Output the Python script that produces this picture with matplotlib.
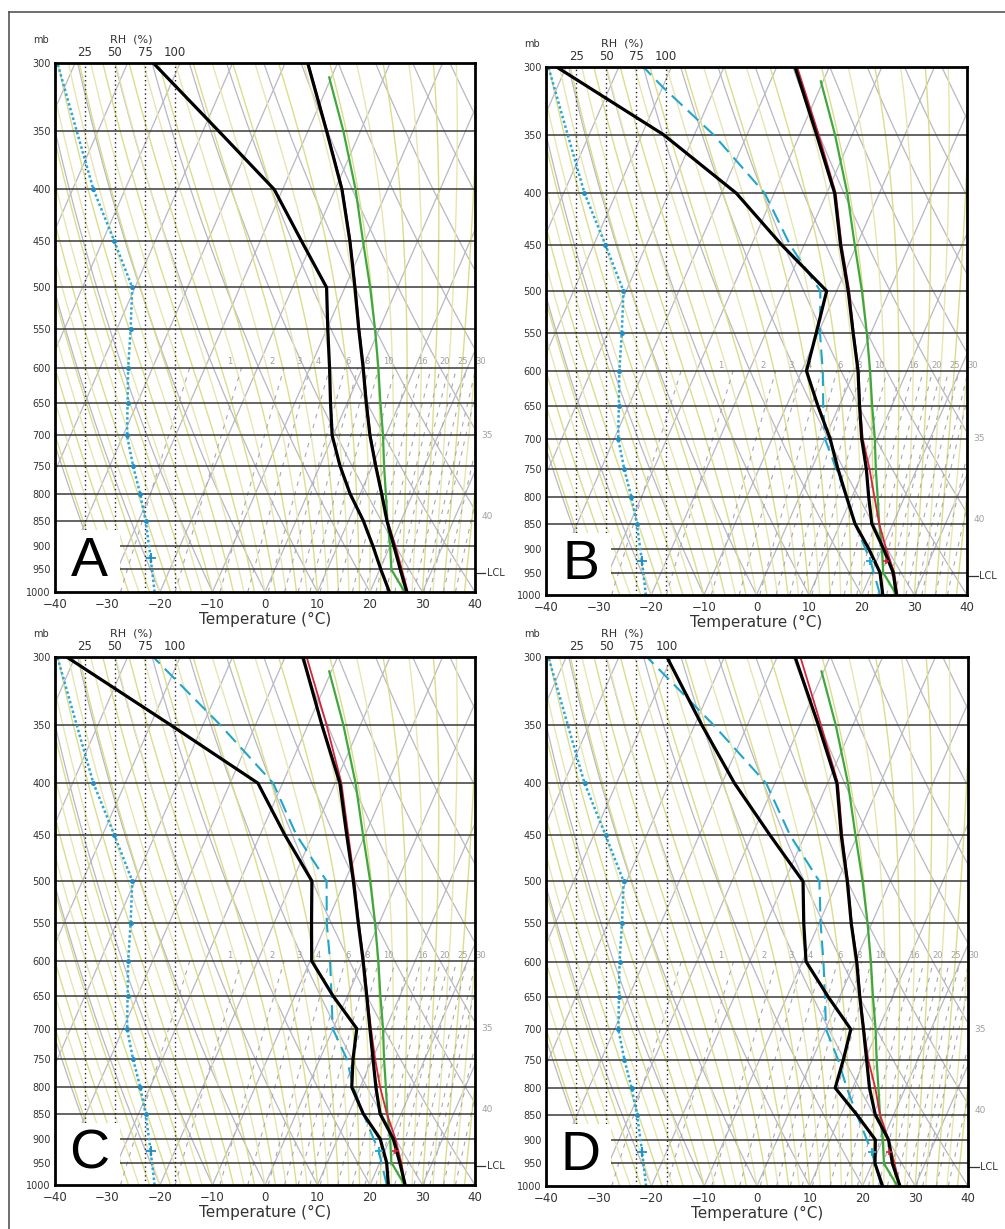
import numpy as np
import matplotlib.pyplot as plt
import matplotlib.transforms as mtransforms
from matplotlib.patches import Rectangle
from matplotlib.lines import Line2D

plt.rcParams['font.family'] = ['DejaVu Sans']

#%% data (temperatures in deg C at the pressure levels, mb)

SKEW = 36.4   # deg C of skew per ln(p) unit

levels = [1000, 950, 900, 850, 800, 750, 700, 650, 600, 550, 500, 450, 400, 350, 300]
dash_levels = [1000, 925, 850, 800, 750, 700, 650, 600, 550, 500, 450, 400, 350, 314, 300]
green_levels = [1000, 950, 900, 850, 800, 750, 700, 650, 600, 550, 500, 450, 400, 350, 310]
rh_levels = [1000, 925, 850, 800, 750, 700, 650, 600, 550, 500, 450, 400, 350, 300]

temp_a = [27.0, 23.9, 20.7, 17.3, 14.1, 10.6, 7.0, 3.6, 0.1, -3.9, -8.1, -12.9, -18.7, -26.5, -35.7]
dewp_a = [23.7, 20.2, 16.7, 12.8, 8.1, 3.8, -0.2, -3.2, -6.3, -9.8, -13.5, -22.1, -31.6, -47.1, -65.1]
parcel_a = [27.2, 24.2, 21.0, 17.4, 14.2, 10.7, 7.1, 3.7, 0.2, -3.8, -8.0, -12.8, -18.6, -26.4, -35.6]

temp_b = [26.6, 24.1, 20.3, 16.0, 13.2, 10.4, 7.0, 3.9, 0.7, -3.4, -7.8, -13.1, -18.5, -26.8, -36.5]
dewp_b = [24.0, 21.6, 17.5, 12.8, 9.0, 5.0, 1.0, -4.0, -9.1, -10.4, -11.9, -24.3, -37.2, -55.9, -81.8]
parcel_b = [26.8, 24.3, 20.8, 17.4, 14.3, 11.0, 7.2, 4.0, 0.8, -3.3, -7.6, -12.9, -18.3, -26.4, -36.1]
dash_b = [23.5, 18.8, 12.8, 9.0, 4.7, 0.0, -3.0, -6.0, -9.7, -13.1, -22.7, -31.8, -46.4, -60.0, -65.3]

temp_c = [26.7, 23.8, 20.6, 16.0, 13.0, 10.1, 7.0, 3.7, 0.1, -4.0, -8.4, -13.5, -19.1, -27.4, -36.6]
dewp_c = [23.5, 21.3, 18.1, 12.8, 8.4, 6.3, 4.5, -2.7, -9.7, -12.9, -16.3, -25.3, -34.7, -56.3, -81.6]
parcel_c = [26.7, 24.1, 21.0, 17.3, 13.8, 10.5, 7.2, 3.8, 0.2, -3.9, -8.2, -13.2, -18.8, -26.5, -35.9]
dash_c = [23.2, 18.8, 12.8, 8.7, 5.1, -0.1, -3.0, -6.2, -10.0, -13.5, -23.1, -31.8, -46.8, -59.7, -65.1]

temp_d = [27.1, 23.8, 21.1, 16.5, 13.2, 10.3, 7.2, 3.8, 0.3, -3.9, -8.1, -13.1, -18.2, -26.6, -36.6]
dewp_d = [23.8, 20.5, 18.6, 13.0, 6.7, 5.9, 4.8, -2.2, -9.3, -12.9, -16.5, -26.6, -37.6, -48.7, -60.9]
parcel_d = [27.1, 24.2, 21.1, 17.4, 14.3, 10.6, 7.3, 3.9, 0.4, -3.8, -8.0, -12.9, -18.0, -26.1, -35.6]
dash_d = [23.6, 18.9, 13.0, 8.9, 4.9, 0.1, -2.8, -6.0, -9.7, -13.4, -22.8, -31.6, -46.5, -59.3, -64.7]

green = [26.6, 22.2, 20.0, 17.4, 14.9, 12.2, 9.5, 6.3, 3.0, -0.8, -5.2, -10.4, -16.1, -23.3, -30.4]
rh = [83, 79.7, 75.5, 71, 65, 60, 60.5, 61, 63, 64.4, 49.4, 32, 18, 2]

rh_ticks = [25, 50, 75, 100]
mr_lines = [0.4, 1, 2, 3, 4, 5, 6, 7, 8, 10, 12, 14, 16, 18, 20, 22, 25, 28, 30, 35, 40]
mr_labels = ['1', '2', '3', '4', '6', '8', '10', '16', '20', '25', '30']
mr_label_x = [-6.8, 1.3, 6.5, 10.1, 15.8, 19.4, 23.4, 29.9, 34.3, 37.7, 41.0]
lcl_p = 958

panels = [
    ('A', [55, 592, 420, 529], temp_a, dewp_a, parcel_a, None),
    ('B', [546, 595, 421, 528], temp_b, dewp_b, parcel_b, dash_b),
    ('C', [55, 1185, 420, 528], temp_c, dewp_c, parcel_c, dash_c),
    ('D', [546, 1186, 422, 529], temp_d, dewp_d, parcel_d, dash_d),
]

#%% function

def skew_x(t, p):
    return np.asarray(t, float) + SKEW * np.log(1000.0 / np.asarray(p, float))

def rh_x(r):
    return -40 + np.asarray(r, float) * 0.22857

def moist_adiabat(tw, p):
    t = np.empty_like(p)
    t[0] = tw + 273.15
    for i in range(1, len(p)):
        T = t[i-1]
        es = 6.112 * np.exp(17.67 * (T - 273.15) / (T - 29.65))
        rs = 0.622 * es / (p[i-1] - es)
        num = (287.04 * T + 2.501e6 * rs) / p[i-1]
        den = 1004.0 + (2.501e6 ** 2 * rs * 0.622) / (287.04 * T ** 2)
        t[i] = T + num / den * (p[i] - p[i-1])
    return t - 273.15

def draw_background(ax):
    pp = np.linspace(1000, 300, 400)
    # isotherms
    for t0 in range(-130, 50, 10):
        ax.plot(skew_x([t0, t0], [1050, 280]), [1050, 280], color='#b8b8c2', lw=0.9, zorder=1)
    # dry adiabats
    for th in range(-40, 130, 10):
        tt = (th + 273.15) * (pp / 1000.0) ** 0.2857 - 273.15
        ax.plot(skew_x(tt, pp), pp, color='#b8b8c2', lw=0.9, zorder=1)
    # moist adiabats
    for k, tw in enumerate(range(-30, 42, 2)):
        tt = moist_adiabat(tw, pp)
        col = '#dcdd8a' if k % 2 == 0 else '#e8e6b0'
        ax.plot(skew_x(tt, pp), pp, color=col, lw=1.0, zorder=1.2)
    # mixing ratio lines
    pm = np.linspace(1000, 600, 50)
    for w in mr_lines:
        e = w * pm / (622.0 + w)
        a = np.log(e / 6.112)
        td = 243.5 * a / (17.67 - a)
        ax.plot(skew_x(td, pm), pm, color='#a8a8b6', lw=0.8, ls=(0, (4, 5)), zorder=1.3)
    # isobars
    for p in range(350, 1000, 50):
        ax.axhline(p, color='#3a3a3a', lw=1.1, zorder=2)
    # RH reference lines
    for r in rh_ticks:
        ax.axvline(rh_x(r), color='#222222', lw=1.0, ls=(0, (1, 2.2)), zorder=2.2)

#%% main

fig = plt.figure(figsize=(10.05, 12.29), dpi=100)
W, H = 1005.0, 1229.0

for name, box, temp, dewp, parcel, dash in panels:
    left, bottom, width, height = box
    ax = fig.add_axes([left / W, 1 - bottom / H, width / W, height / H])
    ax.set_yscale('log')
    ax.set_xlim(-40, 40)
    ax.set_ylim(1000, 300)
    draw_background(ax)

    blend = mtransforms.blended_transform_factory(ax.transData, ax.transAxes)

    # profiles
    ax.plot(skew_x(green, green_levels), green_levels, color='#3ea83e', lw=1.6, zorder=5)
    ax.plot(skew_x(parcel, levels), levels, color='#d8243a', lw=1.3, zorder=5.5)
    ax.plot(skew_x(temp, levels), levels, color='black', lw=2.3, zorder=6)
    if dash is not None:
        ax.plot(skew_x(dash, dash_levels), dash_levels, color='#1ea6cc', lw=1.5,
                ls=(0, (7, 3.5)), zorder=5.8)
        ax.plot(skew_x(dash[1:2], [925]), [925], marker='+', ms=6, mew=1.3,
                color='#1ea6cc', ls='none', zorder=6.5)
        ax.plot(skew_x(parcel[2:3], [900]), [925], marker='+', ms=5, mew=1.2,
                color='#d8243a', ls='none', zorder=6.5)
    ax.plot(skew_x(dewp, levels), levels, color='black', lw=2.3, zorder=6)
    ax.plot(rh_x(rh), rh_levels, color='#2aa6d8', lw=1.8, ls=(0, (1, 1)), zorder=5)
    ax.plot(rh_x(rh[2:12]), rh_levels[2:12], color='#1c8ec8', marker='o', ms=2.5,
            ls='none', zorder=5)
    ax.plot(rh_x(rh[1:2]), [925], marker='+', ms=7, mew=1.3, color='#1c8ec8', ls='none', zorder=5)

    # label box
    ax.add_patch(Rectangle((-40, 0), 12.4, 0.117, transform=blend, facecolor='white',
                           edgecolor='none', zorder=3.5))
    ax.text(-33.4, 0.057, name, transform=blend, fontsize=40, ha='center', va='center',
            family=['Liberation Sans', 'DejaVu Sans'], zorder=7)

    # mixing ratio labels and right side labels
    for lab, xx in zip(mr_labels, mr_label_x):
        ax.text(xx, 592, lab, fontsize=6, color='#a0a0a0', ha='center', va='center',
                clip_on=False, zorder=3)
    yt = mtransforms.blended_transform_factory(ax.transAxes, ax.transData)
    ax.text(1.029, 700, '35', transform=yt, fontsize=6.5, color='#a0a0a0', ha='center', va='center')
    ax.text(1.029, 842, '40', transform=yt, fontsize=6.5, color='#a0a0a0', ha='center', va='center')
    ax.plot([1.0, 1.025], [lcl_p, lcl_p], transform=yt, color='#333333', lw=0.9, clip_on=False)
    ax.text(1.028, lcl_p, 'LCL', transform=yt, fontsize=7, color='#333333', ha='left', va='center')

    # top RH axis
    for r in rh_ticks:
        ax.text(rh_x(r), 1.019, str(r), transform=blend, fontsize=8.5, color='#333333',
                ha='center', va='center')
    ax.text(-25.5, 1.044, 'RH  (%)', transform=blend, fontsize=8, color='#333333',
            ha='center', va='center')
    ax.text(-0.033, 1.044, 'mb', transform=ax.transAxes, fontsize=7, color='#333333',
            ha='center', va='center')

    # axes
    ax.set_yticks(range(300, 1001, 50))
    ax.set_yticklabels([str(p) for p in range(300, 1001, 50)])
    ax.minorticks_off()
    ax.set_xticks(range(-40, 41, 10))
    ax.tick_params(axis='y', length=0, pad=3, labelsize=7, labelcolor='#333333')
    ax.tick_params(axis='x', length=0, pad=4, labelsize=8.5, labelcolor='#333333')
    ax.set_xlabel('Temperature (°C)', fontsize=11, labelpad=1, color='#333333')
    for sp in ax.spines.values():
        sp.set_linewidth(2.0)
        sp.set_zorder(8)

# outer frame (top and left edges)
fig.add_artist(Line2D([9 / W, 1.0], [1 - 12 / H, 1 - 12 / H], transform=fig.transFigure,
                      color='#555555', lw=1.2))
fig.add_artist(Line2D([9 / W, 9 / W], [0.0, 1 - 12 / H], transform=fig.transFigure,
                      color='#555555', lw=1.2))

fig.savefig('out.png', dpi=100)
